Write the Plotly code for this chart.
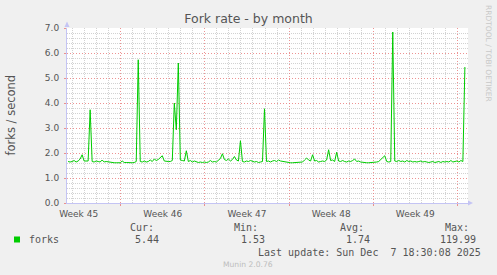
import plotly.graph_objects as go
import pandas as pd

# ---------------- data ----------------
series_start = "2025-11-04 15:00"
step = "4h"
forks = [
    1.66, 1.64, 1.66, 1.70, 1.64, 1.68, 1.76, 1.93, 1.68, 1.68,
    1.68, 3.73, 1.66, 1.64, 1.68, 1.66, 1.64, 1.72, 1.64, 1.66,
    1.64, 1.62, 1.61, 1.61, 1.61, 1.61, 1.61, 1.68, 1.62, 1.62,
    1.61, 1.63, 1.61, 1.62, 1.66, 5.73, 1.66, 1.64, 1.68, 1.64,
    1.66, 1.72, 1.66, 1.76, 1.70, 1.74, 1.80, 1.89, 1.68, 1.66,
    1.66, 1.66, 1.70, 4.00, 2.93, 5.60, 1.72, 1.70, 1.68, 2.09,
    1.66, 1.70, 1.64, 1.68, 1.64, 1.62, 1.64, 1.62, 1.64, 1.62,
    1.64, 1.70, 1.64, 1.66, 1.64, 1.72, 1.78, 1.97, 1.74, 1.70,
    1.76, 1.68, 1.74, 1.86, 1.72, 1.68, 2.49, 1.66, 1.64, 1.68,
    1.66, 1.70, 1.66, 1.64, 1.66, 1.62, 1.64, 1.66, 3.77, 1.66,
    1.68, 1.64, 1.68, 1.70, 1.66, 1.72, 1.68, 1.66, 1.64, 1.62,
    1.61, 1.61, 1.61, 1.61, 1.61, 1.61, 1.61, 1.64, 1.72, 1.80,
    1.72, 1.68, 1.93, 1.68, 1.70, 1.64, 1.66, 1.68, 1.66, 1.72,
    2.13, 1.70, 1.72, 1.66, 2.03, 1.68, 1.66, 1.70, 1.66, 1.64,
    1.68, 1.66, 1.70, 1.76, 1.66, 1.68, 1.64, 1.62, 1.61, 1.61,
    1.61, 1.61, 1.61, 1.62, 1.64, 1.66, 1.74, 1.84, 1.89, 1.66,
    1.64, 1.66, 6.84, 1.68, 1.66, 1.70, 1.66, 1.68, 1.64, 1.70,
    1.66, 1.68, 1.64, 1.66, 1.64, 1.66, 1.68, 1.64, 1.66, 1.64,
    1.62, 1.64, 1.66, 1.62, 1.64, 1.66, 1.62, 1.66, 1.64, 1.66,
    1.64, 1.70, 1.64, 1.66, 1.68, 1.64, 1.70, 1.66, 5.44,
]
times = pd.date_range(series_start, periods=len(forks), freq=step)

x_range = ["2025-11-04 12:48", "2025-12-07 21:12"]
week_tick_vals = ["2025-11-05 12:00", "2025-11-12 12:00", "2025-11-19 12:00",
                  "2025-11-26 12:00", "2025-12-03 12:00"]
week_tick_text = ["Week 45", "Week 46", "Week 47", "Week 48", "Week 49"]
week_grid_start = "2025-11-09"

stat_headers = ["Cur:", "Min:", "Avg:", "Max:"]
stat_values = ["5.44", "1.53", "1.74", "119.99"]
series_name = "forks"
last_update = "Last update: Sun Dec  7 18:30:08 2025"

# ---------------- layout helpers ----------------
W, H = 497, 275
L, R, T, B = 67, 468, 28, 203
PW, PH = R - L, B - T


def px(x):
    return (x - L) / PW


def py(y):
    return (B - y) / PH


AXIS_COL = "#c4c4f4"
MAJOR = "rgba(232,120,120,0.8)"
MINOR = "rgba(205,205,205,0.9)"
MAJOR_DASH = "1px,2px"
MINOR_DASH = "1px,1px"
TXT = "#555555"
MONO = "DejaVu Sans Mono"
SANS = "DejaVu Sans"

fig = go.Figure()
fig.add_trace(go.Scatter(
    x=times, y=forks, mode="lines", name=series_name,
    line=dict(color="#00CC00", width=1), hoverinfo="skip", showlegend=False,
))
# invisible trace to anchor the grid axis
fig.add_trace(go.Scatter(
    x=times, y=forks, mode="lines", xaxis="x2", opacity=0,
    line=dict(width=0), hoverinfo="skip", showlegend=False,
))

fig.update_layout(
    width=W, height=H,
    margin=dict(l=L, r=W - R, t=T, b=H - B, pad=0),
    paper_bgcolor="#F0F0F0", plot_bgcolor="#FFFFFF",
    title=dict(text="Fork rate - by month", x=0.5, xanchor="center",
               y=1 - 19 / H, yanchor="middle", yref="container",
               font=dict(family=SANS, size=12.5, color=TXT)),
    xaxis=dict(
        type="date", range=x_range, tickmode="array",
        tickvals=week_tick_vals, ticktext=week_tick_text,
        showgrid=False, zeroline=False, ticks="", ticklen=0,
        showline=True, linecolor=AXIS_COL, linewidth=1,
        tickfont=dict(family=SANS, size=9, color=TXT),
        ticklabelstandoff=2,
    ),
    xaxis2=dict(
        type="date", range=x_range, overlaying="x", anchor="y", side="bottom",
        tickmode="linear", tick0=week_grid_start, dtick=7 * 86400000,
        showticklabels=False, showgrid=True, gridcolor=MAJOR,
        griddash=MAJOR_DASH, gridwidth=1, zeroline=False, showline=False,
        ticks="outside", ticklen=2, tickcolor=MAJOR,
        minor=dict(tickmode="linear", tick0=week_grid_start, dtick=86400000,
                   showgrid=True, gridcolor=MINOR, griddash=MINOR_DASH,
                   gridwidth=1, ticks=""),
    ),
    yaxis=dict(
        range=[0, 7], tickmode="linear", tick0=0, dtick=1, tickformat=".1f",
        showgrid=True, gridcolor=MAJOR, griddash=MAJOR_DASH, gridwidth=1,
        zeroline=False, showline=True, linecolor=AXIS_COL, linewidth=1,
        ticks="outside", ticklen=2, tickcolor=MAJOR,
        tickfont=dict(family=SANS, size=9, color=TXT),
        ticklabelstandoff=3,
        minor=dict(tickmode="linear", tick0=0, dtick=0.2, showgrid=True,
                   gridcolor=MINOR, griddash=MINOR_DASH, gridwidth=1,
                   ticks=""),
    ),
)

annotations = [
    dict(text="forks / second", x=px(10.5), y=py(115), textangle=-90,
         font=dict(family=SANS, size=11.5, color=TXT)),
    dict(text="RRDTOOL / TOBI OETIKER", x=px(488.5), y=py(53.5), textangle=90,
         font=dict(family=SANS, size=7.5, color="#c8c8c8")),
    dict(text="Munin 2.0.76", x=px(248), y=py(264),
         font=dict(family=SANS, size=7.6, color="#bdbdbd")),
    dict(text=series_name, x=px(27), y=py(239.5), xanchor="left",
         font=dict(family=MONO, size=10, color=TXT)),
    dict(text=last_update, x=px(483), y=py(252), xanchor="right",
         font=dict(family=MONO, size=10, color=TXT)),
]
header_right = [156, 260, 366, 471]
value_right = [161, 267, 372, 478]
for h, v, hr, vr in zip(stat_headers, stat_values, header_right, value_right):
    annotations.append(dict(text=h, x=px(hr), y=py(227.5), xanchor="right",
                            font=dict(family=MONO, size=10, color=TXT)))
    annotations.append(dict(text=v, x=px(vr), y=py(239.5), xanchor="right",
                            font=dict(family=MONO, size=10, color=TXT)))
for a in annotations:
    a.update(xref="paper", yref="paper", showarrow=False,
             yanchor="middle", xanchor=a.get("xanchor", "center"))
fig.update_layout(annotations=annotations)

shapes = [
    # legend swatch
    dict(type="rect", xref="paper", yref="paper",
         x0=px(14), x1=px(20), y0=py(242.5), y1=py(236.5),
         fillcolor="#00CC00", line=dict(width=0)),
    # axis arrows
    dict(type="path", xref="paper", yref="paper",
         path=f"M {px(64.5)},{py(27)} L {px(69.5)},{py(27)} L {px(67)},{py(21.5)} Z",
         fillcolor=AXIS_COL, line=dict(width=0)),
    dict(type="path", xref="paper", yref="paper",
         path=f"M {px(468)},{py(200.5)} L {px(468)},{py(205.5)} L {px(473)},{py(203)} Z",
         fillcolor=AXIS_COL, line=dict(width=0)),
]
fig.update_layout(shapes=shapes)

fig.write_html("out.html")
